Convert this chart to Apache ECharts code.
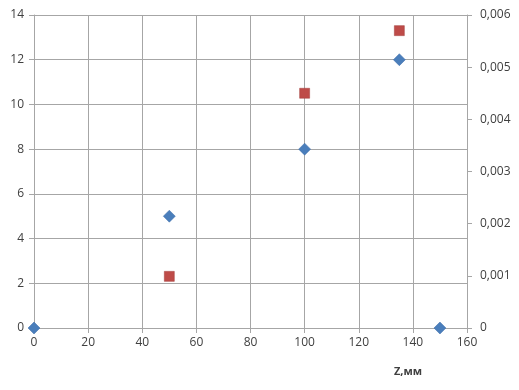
<!DOCTYPE html>
<html><head><meta charset="utf-8">
<script src="https://cdn.jsdelivr.net/npm/echarts@6/dist/echarts.min.js"></script>
<style>html,body{margin:0;padding:0;background:#fff}#c{width:519px;height:390px}</style>
</head><body><div id="c"></div>
<script>
var xTicks = [0, 20, 40, 60, 80, 100, 120, 140, 160];
var blueX = [0, 50, 100, 135, 150];
var blueY = [0, 5, 8, 12, 0];
var redX = [50, 100, 135];
var redY = [0.00099, 0.0045, 0.0057];
var xName = 'Z,мм';

var font = 'Open Sans';
var txt = '#404040';
var gridCol = '#a6a6a6';
function pairs(xs, ys){ return xs.map(function(x,i){ return [x, ys[i]]; }); }
var chart = echarts.init(document.getElementById('c'));
chart.setOption({
  animation: false,
  backgroundColor: '#fff',
  grid: {left: 34, right: 52, top: 15, bottom: 62, containLabel: false},
  xAxis: {
    type: 'value', min: xTicks[0], max: xTicks[xTicks.length-1], interval: 20,
    name: xName, nameLocation: 'end',
    nameTextStyle: {fontFamily: font, fontWeight: 'bold', fontSize: 11, color: txt, align: 'center', verticalAlign: 'top', padding: [38, 0, 0, -148]},
    axisLine: {show: true, lineStyle: {color: gridCol}},
    axisTick: {show: true, length: 5, lineStyle: {color: gridCol}},
    axisLabel: {fontFamily: font, fontSize: 12, color: txt, margin: 9},
    splitLine: {show: true, lineStyle: {color: gridCol, width: 1}}
  },
  yAxis: [{
    type: 'value', min: 0, max: 14, interval: 2, position: 'left',
    axisLine: {show: true, lineStyle: {color: gridCol}},
    axisTick: {show: true, length: 5, lineStyle: {color: gridCol}},
    axisLabel: {fontFamily: font, fontSize: 12, color: txt, margin: 10},
    splitLine: {show: true, lineStyle: {color: gridCol, width: 1}}
  }, {
    type: 'value', min: 0, max: 0.006, interval: 0.001, position: 'right',
    axisLine: {show: true, lineStyle: {color: gridCol}},
    axisTick: {show: true, length: 5, lineStyle: {color: gridCol}},
    axisLabel: {fontFamily: font, fontSize: 12, color: txt, margin: 13,
      formatter: function(v){ return v === 0 ? '0' : v.toFixed(3).replace('.', ','); }},
    splitLine: {show: false}
  }],
  series: [{
    type: 'scatter', yAxisIndex: 0, data: pairs(blueX, blueY),
    symbol: 'diamond', symbolSize: [12, 12],
    itemStyle: {color: '#4a7ebb', borderColor: '#3b6aa6', borderWidth: 0.5, opacity: 1}, z: 3
  }, {
    type: 'scatter', yAxisIndex: 1, data: pairs(redX, redY),
    symbol: 'rect', symbolSize: [10, 10],
    itemStyle: {color: '#be4b48', borderColor: '#a33f3c', borderWidth: 0.5, opacity: 1}, z: 3
  }]
});
</script></body></html>
